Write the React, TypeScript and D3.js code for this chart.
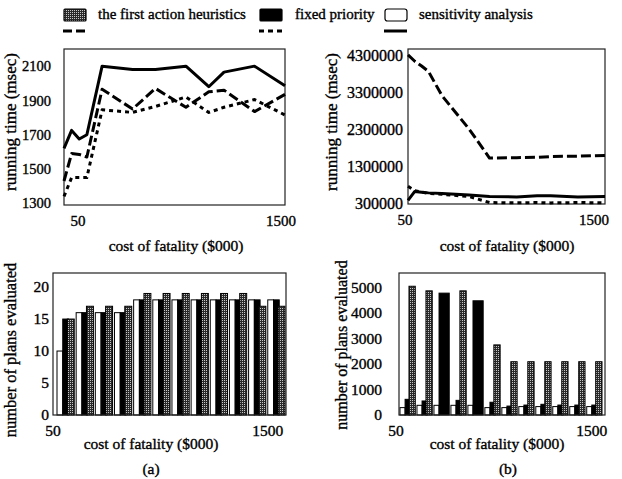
import * as d3 from "d3";

// cost of fatality ($000) for each run
const costs = [50, 100, 150, 200, 300, 500, 650, 850, 1000, 1100, 1300, 1500];

const seriesNames = ["the first action heuristics", "fixed priority", "sensitivity analysis"];

// running time (msec), panel (a)
const timeFirstA = [1430, 1590, 1585, 1570, 1965, 1850, 1970, 1860, 1950, 1960, 1835, 1935];
const timeFixedA = [1340, 1450, 1450, 1450, 1845, 1830, 1865, 1920, 1830, 1860, 1905, 1815];
const timeSensA = [1620, 1725, 1675, 1700, 2100, 2080, 2080, 2100, 1980, 2065, 2100, 1985];

// running time (msec), panel (b)
const timeFirstB = [4300000, 4130000, 4000000, 3860000, 3200000, 2300000, 1520000, 1530000, 1540000, 1560000, 1570000, 1590000];
const timeFixedB = [760000, 640000, 600000, 570000, 540000, 480000, 320000, 310000, 320000, 310000, 320000, 310000];
const timeSensB = [380000, 620000, 600000, 580000, 560000, 520000, 480000, 470000, 500000, 500000, 470000, 480000];

// number of plans evaluated, panel (a)
const plansFirstA = [15, 17, 17, 17, 19, 19, 19, 19, 19, 19, 17, 17];
const plansFixedA = [15, 16, 16, 16, 18, 18, 18, 18, 18, 18, 18, 18];
const plansSensA = [10, 16, 16, 16, 18, 18, 18, 18, 18, 18, 18, 18];

// number of plans evaluated, panel (b); null = no bar
const plansFirstB = [5050, 4870, null, 4870, null, 2750, 2090, 2090, 2090, 2090, 2090, 2090];
const plansFixedB = [615, 550, 4780, 575, 4480, 500, 350, 390, 420, 390, 390, 390];
const plansSensB = [290, 380, 380, 380, 380, 290, 290, 330, 330, 330, 330, 330];

const ticksTimeA = [1300, 1500, 1700, 1900, 2100];
const ticksTimeB = [300000, 1300000, 2300000, 3300000, 4300000];
const ticksPlansA = [0, 5, 10, 15, 20];
const ticksPlansB = [0, 1000, 2000, 3000, 4000, 5000];
const xTickLabels = [50, 1500];

const FONT = "'Liberation Serif', 'Times New Roman', serif";
const dashFor = ["10 4", "4 4", null];

type Frame = { x0: number; x1: number; y0: number; y1: number };

function LinePanel(props: {
  frame: Frame;
  yDomain: [number, number];
  yTicks: number[];
  series: number[][];
  tickFont: number;
  tickGap: number;
  xLabelDx: number[];
}) {
  const { frame, yDomain, yTicks, series, tickFont, tickGap, xLabelDx } = props;
  const x = d3.scaleLinear().domain([50, 1500]).range([frame.x0, frame.x1]);
  const y = d3.scaleLinear().domain(yDomain).range([frame.y1, frame.y0]);
  const line = d3
    .line<number>()
    .x((_, i) => x(costs[i]))
    .y((d) => y(d));
  return (
    <g>
      <rect x={frame.x0} y={frame.y0} width={frame.x1 - frame.x0} height={frame.y1 - frame.y0}
        fill="none" stroke="#222" strokeWidth={1.2} />
      {series.map((s, i) => (
        <path key={i} d={line(s) || ""} fill="none" stroke="#000" strokeWidth={3}
          strokeDasharray={dashFor[i] || undefined} strokeLinejoin="round" />
      ))}
      {yTicks.map((t) => (
        <text key={t} x={frame.x0 - tickGap} y={y(t)} dy="0.35em" textAnchor="end"
          fontSize={tickFont}>{t}</text>
      ))}
      {xTickLabels.map((t, i) => (
        <text key={t} x={x(t) + xLabelDx[i]} y={frame.y1 + 21} textAnchor="middle"
          fontSize={15}>{t}</text>
      ))}
    </g>
  );
}

function BarPanel(props: {
  frame: Frame;
  yMax: number;
  yTicks: number[];
  series: (number | null)[][];
  tickGap: number;
  inset: [number, number];
  xLabelDx: number[];
}) {
  const { frame, yMax, yTicks, series, tickGap, inset, xLabelDx } = props;
  const x = d3
    .scaleBand<number>()
    .domain(costs)
    .range([frame.x0 + inset[0], frame.x1 - inset[1]])
    .paddingInner(0.1);
  const y = d3.scaleLinear().domain([0, yMax]).range([frame.y1, frame.y0]);
  const w = x.bandwidth() / 3;
  // draw order: sensitivity (white), fixed (black), first action (pattern)
  const order = [2, 1, 0];
  const fills = ["url(#heur)", "#000", "#fff"];
  return (
    <g>
      {costs.map((c, ci) => {
        const bx = x(c) as number;
        return order.map((si, k) => {
          const v = series[si][ci];
          if (v == null) return null;
          let left = bx + k * w;
          let width = w;
          if (si === 0) {
            left -= 1.2;
            width += 1.2;
          }
          // fixed priority takes the whole right part when there is no heuristic bar
          if (si === 1 && series[0][ci] == null) width = 2 * w;
          return (
            <rect key={c + "-" + si} x={left} y={y(v)} width={width} height={y(0) - y(v)}
              fill={fills[si]} stroke="#000" strokeWidth={1} />
          );
        });
      })}
      <rect x={frame.x0} y={frame.y0} width={frame.x1 - frame.x0} height={frame.y1 - frame.y0}
        fill="none" stroke="#222" strokeWidth={1.2} />
      {yTicks.map((t) => (
        <text key={t} x={frame.x0 - tickGap} y={y(t)} dy="0.35em" textAnchor="end"
          fontSize={15.5}>{t}</text>
      ))}
      {xTickLabels.map((t, i) => (
        <text key={t} x={(x(t) as number) + xLabelDx[i]} y={frame.y1 + 21} textAnchor="middle"
          fontSize={15.5}>{t}</text>
      ))}
    </g>
  );
}

function Legend() {
  const items = [
    { x: 64, textX: 98 },
    { x: 260, textX: 295 },
    { x: 385, textX: 419 },
  ];
  const fills = ["url(#heur)", "#000", "#fff"];
  return (
    <g>
      {items.map((it, i) => (
        <g key={i}>
          <rect x={it.x} y={9} width={22} height={12} rx={i === 2 ? 2.5 : 1} fill={fills[i]}
            stroke="#000" strokeWidth={1.2} />
          <text x={it.textX} y={19} fontSize={15}>{seriesNames[i]}</text>
          <line x1={it.x - 1} x2={it.x + 22} y1={31} y2={31} stroke="#000" strokeWidth={3}
            strokeDasharray={i === 0 ? "9 4" : i === 1 ? "5 4" : undefined} />
        </g>
      ))}
    </g>
  );
}

export default function App() {
  const tl: Frame = { x0: 64, x1: 285, y0: 49, y1: 205 };
  const tr: Frame = { x0: 408, x1: 605, y0: 49, y1: 204 };
  const bl: Frame = { x0: 53, x1: 286, y0: 273, y1: 415 };
  const br: Frame = { x0: 399, x1: 605, y0: 273, y1: 415 };
  return (
    <svg width={622} height={479} style={{ position: "absolute", left: 0, top: 0, background: "#fff" }}
      fontFamily={FONT}>
      <style>{"text { fill: #000; stroke: #000; stroke-width: 0.35px; }"}</style>
      <defs>
        <pattern id="heur" width={2} height={2} patternUnits="userSpaceOnUse">
          <rect width={2} height={2} fill="#2a2a2a" />
          <rect width={1} height={1} fill="#c8c8c8" />
        </pattern>
      </defs>
      <rect width={622} height={479} fill="#fff" />
      <Legend />

      <LinePanel frame={tl} yDomain={[1290, 2200]} yTicks={ticksTimeA}
        series={[timeFirstA, timeFixedA, timeSensA]} tickFont={14.5} tickGap={13} xLabelDx={[14, -4]} />
      <LinePanel frame={tr} yDomain={[280000, 4460000]} yTicks={ticksTimeB}
        series={[timeFirstB, timeFixedB, timeSensB]} tickFont={16} tickGap={5} xLabelDx={[-3, -11]} />

      <BarPanel frame={bl} yMax={22.2} yTicks={ticksPlansA}
        series={[plansFirstA, plansFixedA, plansSensA]} tickGap={4} inset={[4, 1]} xLabelDx={[-4, 0]} />
      <BarPanel frame={br} yMax={5570} yTicks={ticksPlansB}
        series={[plansFirstB, plansFixedB, plansSensB]} tickGap={17} inset={[1, 3]} xLabelDx={[-4, 5]} />

      <text transform="translate(16,122) rotate(-90)" textAnchor="middle" fontSize={17}>running time (msec)</text>
      <text transform="translate(337,122) rotate(-90)" textAnchor="middle" fontSize={17}>running time (msec)</text>
      <text transform="translate(16,350) rotate(-90)" textAnchor="middle" fontSize={16.5}>number of plans evaluated</text>
      <text transform="translate(347,345) rotate(-90)" textAnchor="middle" fontSize={16}>number of plans evaluated</text>

      <text x={176} y={251} textAnchor="middle" fontSize={15.5}>cost of fatality ($000)</text>
      <text x={507} y={251} textAnchor="middle" fontSize={15.5}>cost of fatality ($000)</text>
      <text x={151} y={449} textAnchor="middle" fontSize={15.5}>cost of fatality ($000)</text>
      <text x={497} y={449} textAnchor="middle" fontSize={15.5}>cost of fatality ($000)</text>
      <text x={151} y={474} textAnchor="middle" fontSize={15.5}>(a)</text>
      <text x={508} y={474} textAnchor="middle" fontSize={15.5}>(b)</text>
    </svg>
  );
}
